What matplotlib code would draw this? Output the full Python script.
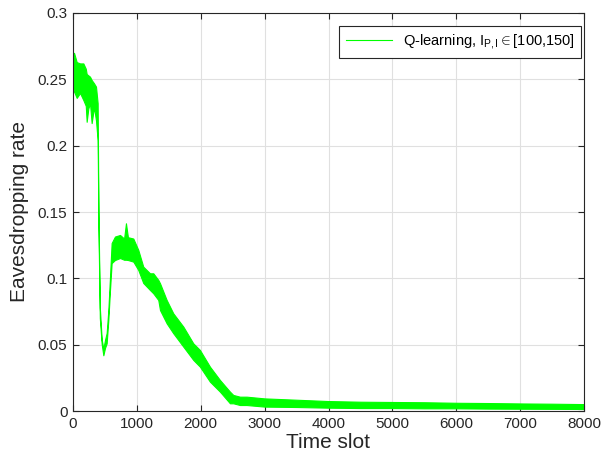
import matplotlib.pyplot as plt

# Envelope of the noisy Q-learning curve
time_slot = [0, 16, 58, 110, 162, 200, 214, 240, 266, 292, 329, 360, 386, 398,
             420, 449, 475, 501, 527, 553, 579, 605, 657, 736, 800, 829, 860,
             944, 1022, 1100, 1205, 1257, 1335, 1362, 1466, 1570, 1727, 1883,
             1987, 2144, 2300, 2457, 2509, 2613, 2718, 3000, 3500, 4000, 4500,
             5000, 5500, 6000, 6500, 7000, 7500, 8000]
upper = [0.262, 0.270, 0.263, 0.262, 0.262, 0.258, 0.254, 0.253, 0.252, 0.2495,
         0.247, 0.2445, 0.232, 0.151, 0.078, 0.054, 0.047, 0.0535, 0.0588, 0.076,
         0.101, 0.1266, 0.1315, 0.1327, 0.130, 0.1415, 0.131, 0.130, 0.1214,
         0.1088, 0.1038, 0.1038, 0.0988, 0.0963, 0.0837, 0.0736, 0.0636, 0.051,
         0.046, 0.0334, 0.0234, 0.0146, 0.0121, 0.0108, 0.0108, 0.0095, 0.0085,
         0.0075, 0.007, 0.0068, 0.0066, 0.0062, 0.006, 0.0057, 0.0055, 0.0052]
lower = [0.245, 0.2408, 0.236, 0.2397, 0.2344, 0.230, 0.218, 0.228, 0.232, 0.217,
         0.229, 0.219, 0.204, 0.140, 0.070, 0.0505, 0.042, 0.0475, 0.051, 0.0686,
         0.091, 0.1115, 0.1138, 0.1153, 0.114, 0.114, 0.1138, 0.1126, 0.1063,
         0.0965, 0.0912, 0.0887, 0.0837, 0.0761, 0.0661, 0.0586, 0.0485, 0.0385,
         0.0334, 0.0221, 0.0146, 0.0058, 0.0058, 0.0045, 0.0045, 0.0033, 0.003,
         0.0025, 0.0022, 0.0022, 0.002, 0.002, 0.0018, 0.0017, 0.0016, 0.0015]

x_ticks = [0, 1000, 2000, 3000, 4000, 5000, 6000, 7000, 8000]
y_ticks = [0, 0.05, 0.1, 0.15, 0.2, 0.25, 0.3]
y_tick_labels = ['0', '0.05', '0.1', '0.15', '0.2', '0.25', '0.3']

plt.rcParams['font.family'] = ['Liberation Sans', 'DejaVu Sans']
plt.rcParams['mathtext.fontset'] = 'custom'
plt.rcParams['mathtext.rm'] = 'Liberation Sans'
plt.rcParams['mathtext.it'] = 'Liberation Sans'

fig = plt.figure(figsize=(6.02, 4.69), dpi=100)
ax = fig.add_axes([73 / 602, 58 / 469, 511 / 602, 398 / 469])

green = (0.0, 1.0, 0.0)
ax.fill_between(time_slot, lower, upper, color=green, linewidth=0.8)
ax.plot([], [], color=green, linewidth=0.8,
        label=r'Q-learning, I$_{\mathrm{P,I}}$$\in$[100,150]')

ax.set_xlim(0, 8000)
ax.set_ylim(0, 0.3)
ax.set_xticks(x_ticks)
ax.set_yticks(y_ticks)
ax.set_yticklabels(y_tick_labels)
ax.grid(True, color=(0.88, 0.88, 0.88), linewidth=0.8)
ax.set_axisbelow(True)

axis_color = (0.15, 0.15, 0.15)
for side in ax.spines.values():
    side.set_color(axis_color)
    side.set_linewidth(0.8)
ax.tick_params(direction='in', length=4, width=0.8, colors=axis_color,
               labelsize=11, top=True, right=True, pad=4)

ax.set_xlabel('Time slot', fontsize=15, color=axis_color, labelpad=2)
ax.set_ylabel('Eavesdropping rate', fontsize=15, color=axis_color, labelpad=6)

leg = ax.legend(loc='upper right', fontsize=10.5, fancybox=False, framealpha=1,
                edgecolor=axis_color, handlelength=3.2, borderpad=0.45,
                handletextpad=0.7, borderaxespad=0,
                bbox_to_anchor=(0.994, 0.968))
leg.get_frame().set_linewidth(0.8)

fig.savefig('out.png', dpi=100)
